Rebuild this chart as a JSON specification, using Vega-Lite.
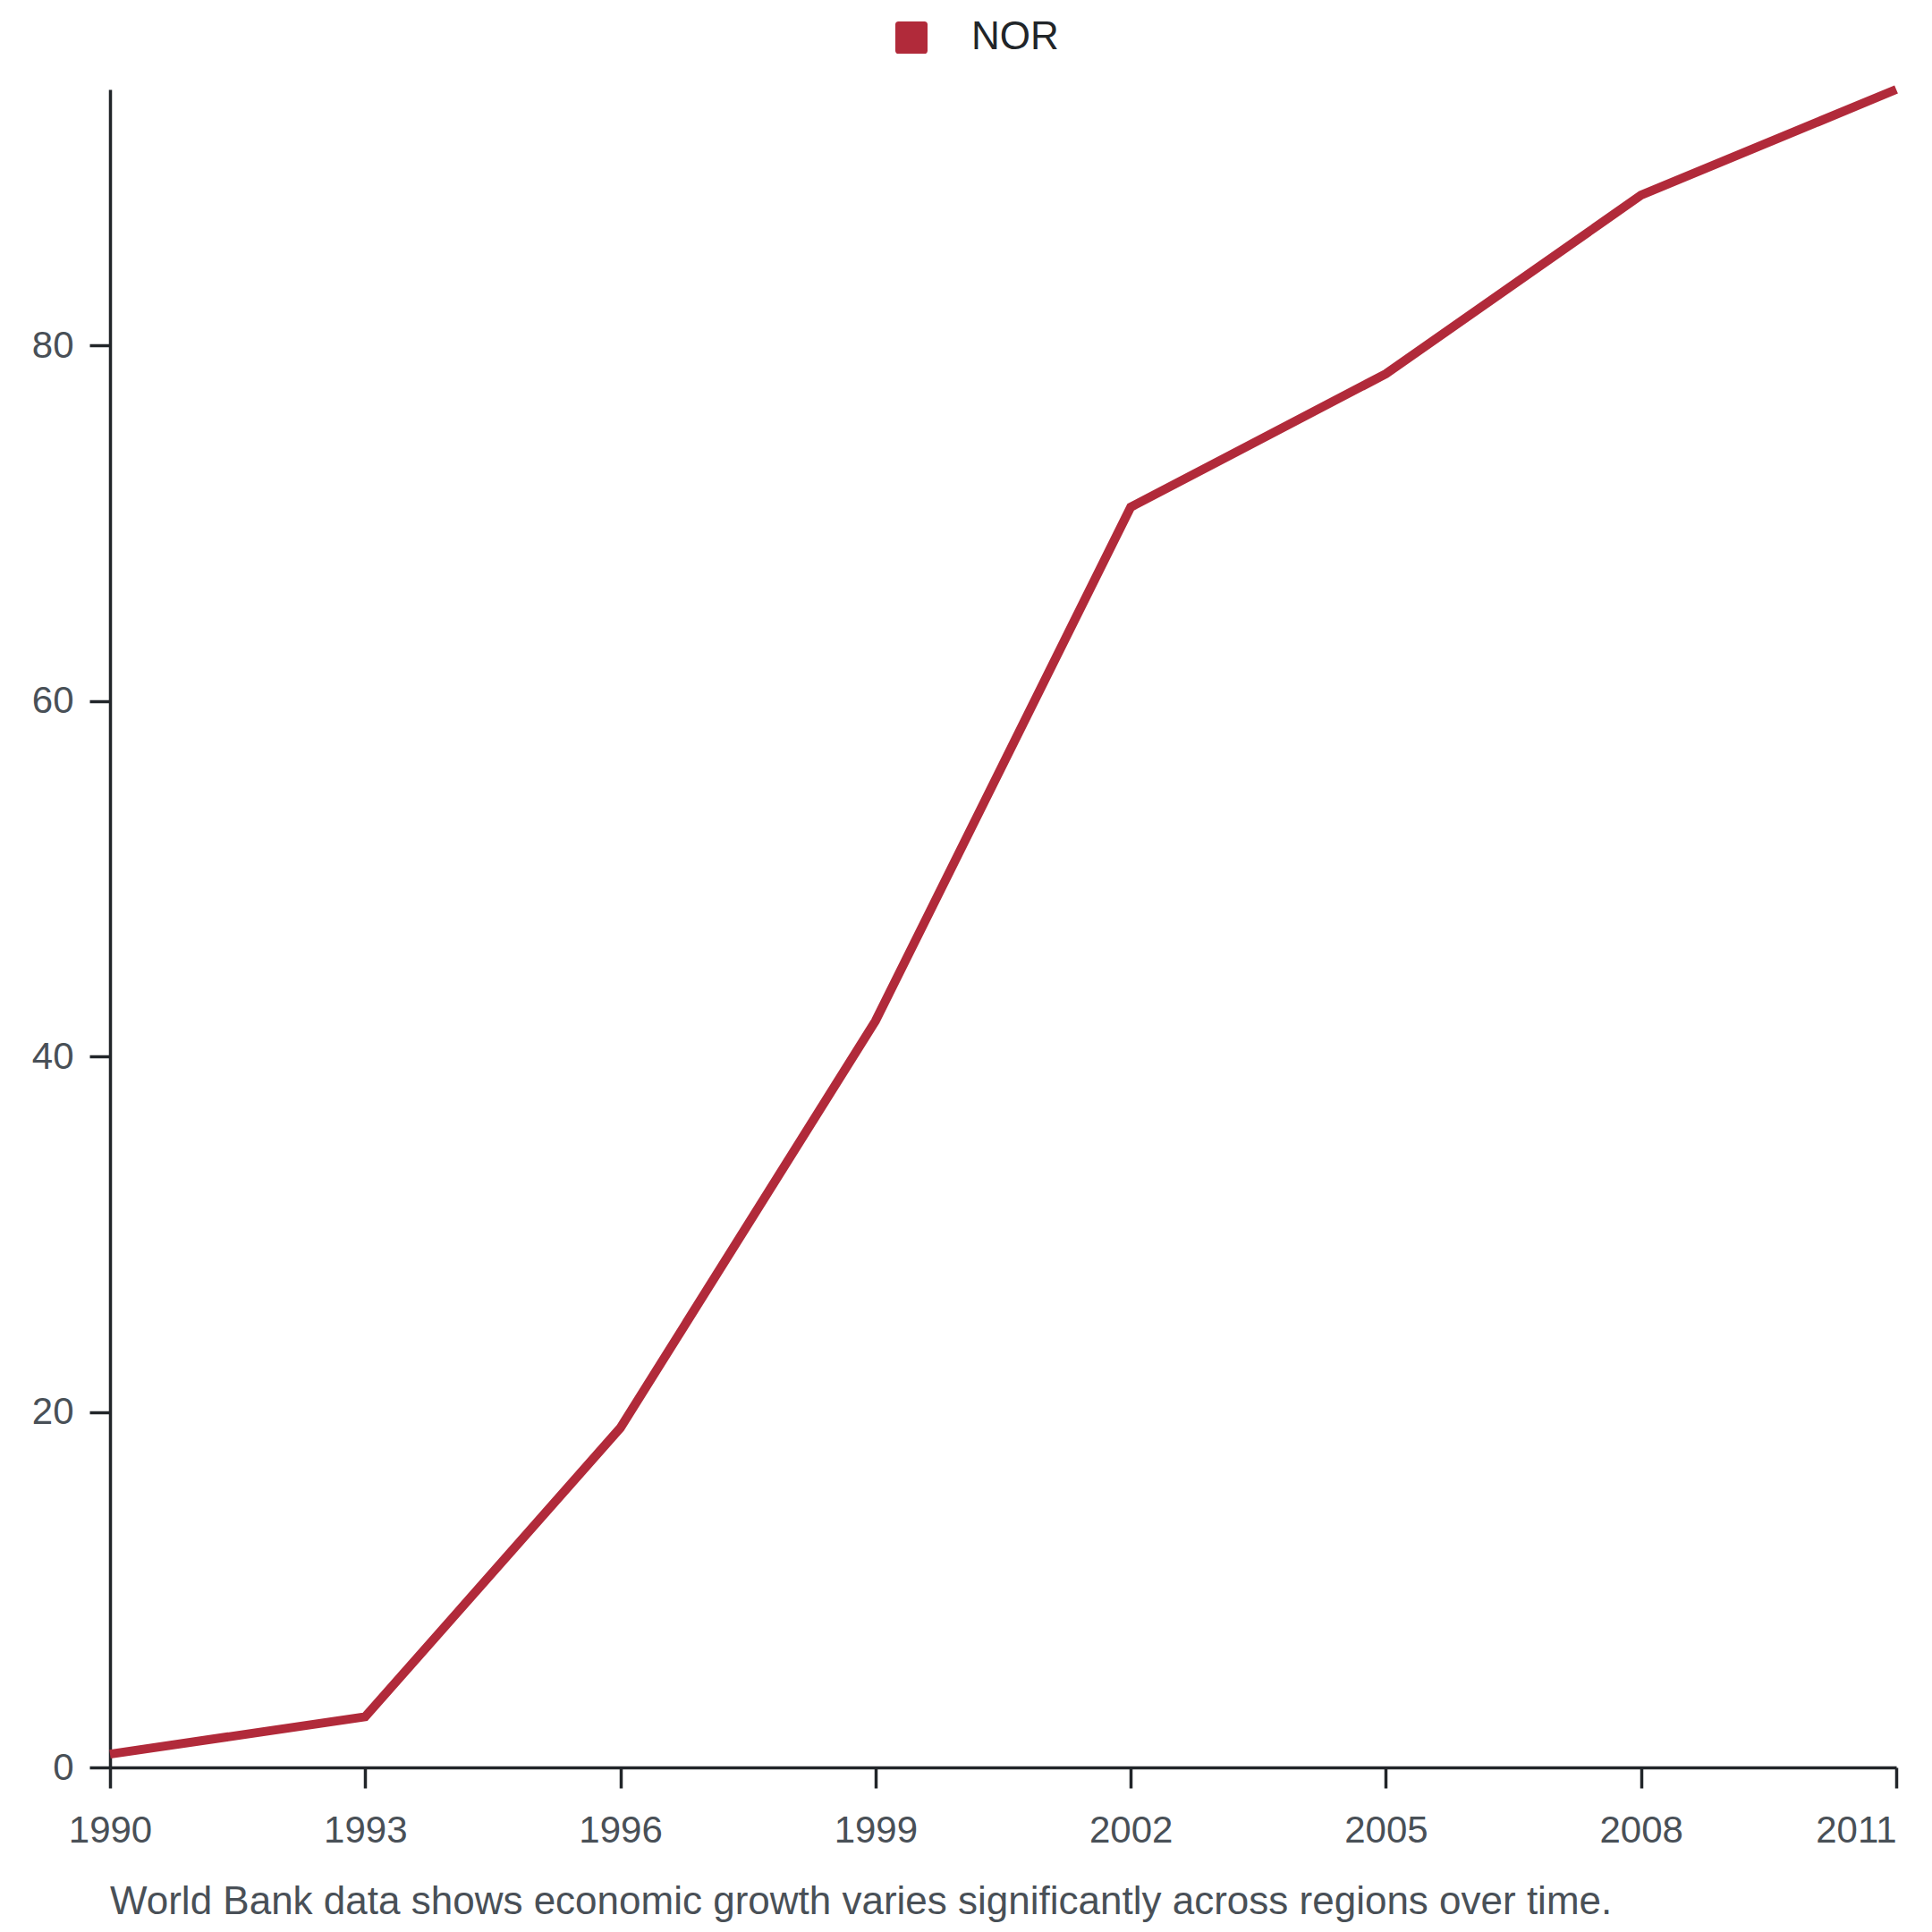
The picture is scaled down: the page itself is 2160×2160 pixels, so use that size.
{
  "$schema": "https://vega.github.io/schema/vega-lite/v6.json",
  "width": 1997,
  "height": 1876,
  "autosize": "none",
  "padding": {"left": 123, "top": 100, "right": 40, "bottom": 184},
  "background": "white",
  "config": {
    "font": "Liberation Sans",
    "view": {"stroke": null},
    "axis": {
      "grid": false,
      "domainColor": "#212529",
      "domainWidth": 3.5,
      "tickColor": "#212529",
      "tickWidth": 3.5,
      "tickSize": 23,
      "labelFont": "Liberation Sans",
      "labelFontSize": 42,
      "labelColor": "#495057",
      "title": null
    }
  },
  "title": {
    "text": "World Bank data shows economic growth varies significantly across regions over time.",
    "orient": "bottom",
    "anchor": "start",
    "frame": "group",
    "fontSize": 44,
    "font": "Liberation Sans",
    "fontWeight": "normal",
    "color": "#495057",
    "offset": 38
  },
  "data": {
    "values": [
      {"year": 1990, "value": 0.75, "country": "NOR"},
      {"year": 1993, "value": 2.85, "country": "NOR"},
      {"year": 1996, "value": 19.1, "country": "NOR"},
      {"year": 1999, "value": 42.0, "country": "NOR"},
      {"year": 2002, "value": 70.9, "country": "NOR"},
      {"year": 2005, "value": 78.4, "country": "NOR"},
      {"year": 2008, "value": 88.45, "country": "NOR"},
      {"year": 2011, "value": 94.4, "country": "NOR"}
    ]
  },
  "mark": {"type": "line", "strokeWidth": 10, "strokeJoin": "miter", "strokeCap": "butt"},
  "encoding": {
    "x": {
      "field": "year",
      "type": "quantitative",
      "scale": {"domain": [1990, 2011], "nice": false, "zero": false},
      "axis": {
        "values": [1990, 1993, 1996, 1999, 2002, 2005, 2008, 2011],
        "format": "d",
        "labelPadding": 27,
        "labelFlush": false,
        "labelAlign": {"condition": {"test": "datum.value == 2011", "value": "right"}, "value": "center"}
      }
    },
    "y": {
      "field": "value",
      "type": "quantitative",
      "scale": {"nice": false, "zero": true},
      "axis": {
        "values": [0, 20, 40, 60, 80],
        "labelPadding": 18
      }
    },
    "color": {
      "field": "country",
      "type": "nominal",
      "scale": {"range": ["#b12a3a"]},
      "legend": {
        "title": null,
        "orient": "none",
        "legendX": 874,
        "legendY": -80,
        "direction": "horizontal",
        "padding": 0,
        "symbolType": "M-0.8,-1H0.8Q1,-1,1,-0.8V0.8Q1,1,0.8,1H-0.8Q-1,1,-1,0.8V-0.8Q-1,-1,-0.8,-1Z",
        "symbolSize": 1296,
        "symbolStrokeWidth": 0,
        "symbolOpacity": 1,
        "symbolFillColor": "#b12a3a",
        "labelFontSize": 44,
        "labelColor": "#212529",
        "labelFont": "Liberation Sans",
        "labelOffset": 45,
        "encode": {
          "symbols": {
            "update": {
              "fill": {"value": "#b12a3a"},
              "stroke": {"value": "#b12a3a"},
              "strokeWidth": {"value": 0},
              "opacity": {"value": 1}
            }
          }
        }
      }
    }
  }
}
